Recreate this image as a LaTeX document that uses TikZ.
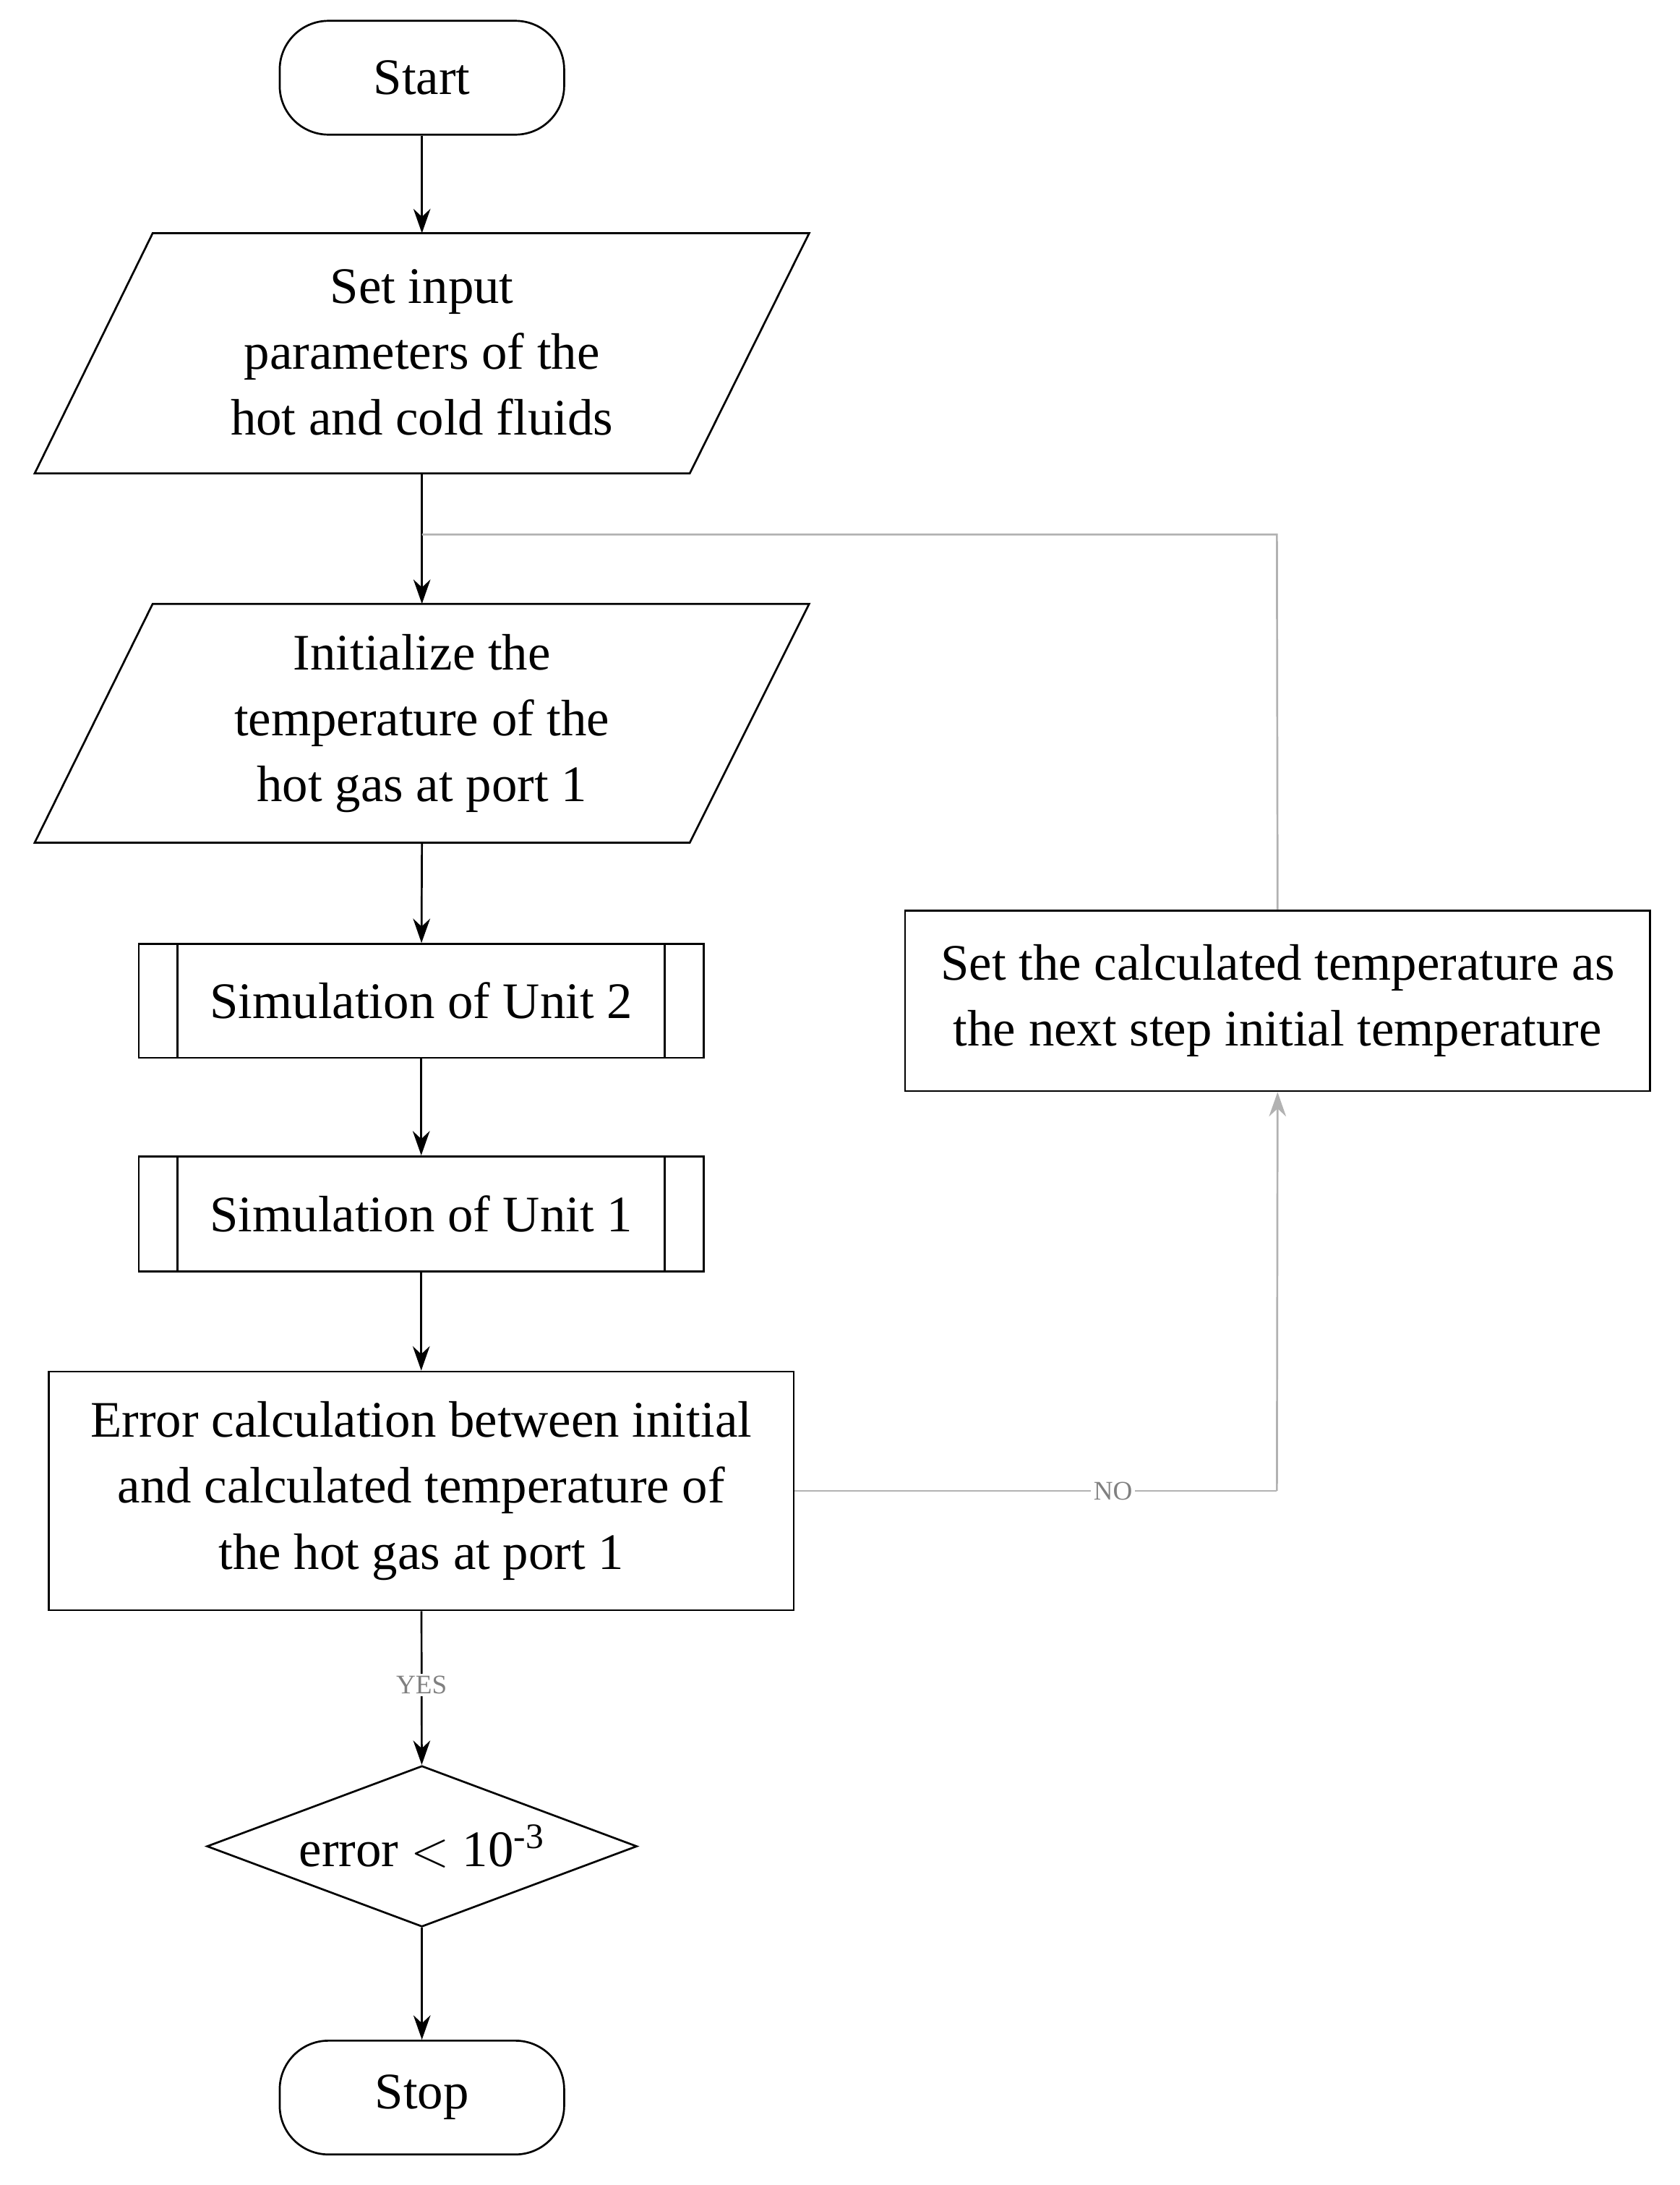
\documentclass[tikz,border=0pt]{standalone}
\usepackage{fontspec}
\setmainfont{Liberation Serif}
\usetikzlibrary{arrows.meta,shapes.geometric,shapes.multipart}
\begin{document}
\begin{tikzpicture}[x=0.02cm,y=-0.02cm,
  box/.style={draw,thick,inner sep=0,align=center,font=\fontsize{21}{27}\selectfont},
  txt/.style={align=center,font=\fontsize{21}{27}\selectfont},
  arr/.style={-{Stealth[length=10pt,width=7pt]},thick},
  fb/.style={draw=gray!60,thick},
  lab/.style={font=\fontsize{11}{12}\selectfont,text=gray,fill=white,inner sep=1pt}]
\useasboundingbox (0,0) rectangle (1210,1574);
\node[box,rounded corners=20pt,minimum width=4.1cm,minimum height=1.64cm] (start) at (304,56) {Start};
\draw[thick] (110,168) coordinate (p1a) -- (583,168) -- (497,341) -- (25,341) -- cycle;
\node[txt] (in1) at (304,254) {Set input\\parameters of the\\hot and cold fluids};
\coordinate (p1b) at (304,341);
\coordinate (p1t) at (304,168);
\draw[thick] (110,435) -- (583,435) -- (497,607) -- (25,607) -- cycle;
\node[txt] (in2) at (304,521) {Initialize the\\temperature of the\\hot gas at port 1};
\coordinate (p2t) at (304,435);
\coordinate (p2b) at (304,607);
\coordinate (join) at (304,385);
\node[box,minimum width=8.14cm,minimum height=1.64cm] (u2) at (303.5,721) {Simulation of Unit 2};
\draw[thick] (128,680) -- (128,762) (479,680) -- (479,762);
\node[box,minimum width=8.14cm,minimum height=1.66cm] (u1) at (303.5,874.5) {Simulation of Unit 1};
\draw[thick] (128,833) -- (128,916) (479,833) -- (479,916);
\node[box,minimum width=10.74cm,minimum height=3.44cm] (err) at (303.5,1074) {Error calculation between initial\\and calculated temperature of\\the hot gas at port 1};
\node[draw,thick,diamond,aspect=2.67,minimum width=6.2cm,minimum height=2.32cm,inner sep=0,font=\fontsize{21}{27}\selectfont] (dec) at (304,1330) {};
\node[txt] at (304,1330) {error $<$ 10\textsuperscript{-3}};
\node[box,rounded corners=20pt,minimum width=4.1cm,minimum height=1.64cm] (stop) at (304,1511) {Stop};
\node[box,minimum width=10.74cm,minimum height=2.6cm] (set) at (920.5,721) {Set the calculated temperature as\\the next step initial temperature};
\draw[arr] (start) -- (p1t);
\draw[thick] (p1b) -- (join);
\draw[arr] (join) -- (p2t);
\draw[arr] (p2b) -- (u2);
\draw[arr] (u2) -- (u1);
\draw[arr] (u1) -- (err);
\draw[arr] (err) -- node[lab,pos=0.48]{YES} (dec);
\draw[arr] (dec) -- (stop);
\draw[fb] (err.east) -- node[lab,pos=0.66]{NO} (920,1074) coordinate (c1);
\draw[arr,draw=gray!60] (c1) -- (set.south);
\draw[fb] (set.north) -- (920,385) -- (join);
\end{tikzpicture}
\end{document}
